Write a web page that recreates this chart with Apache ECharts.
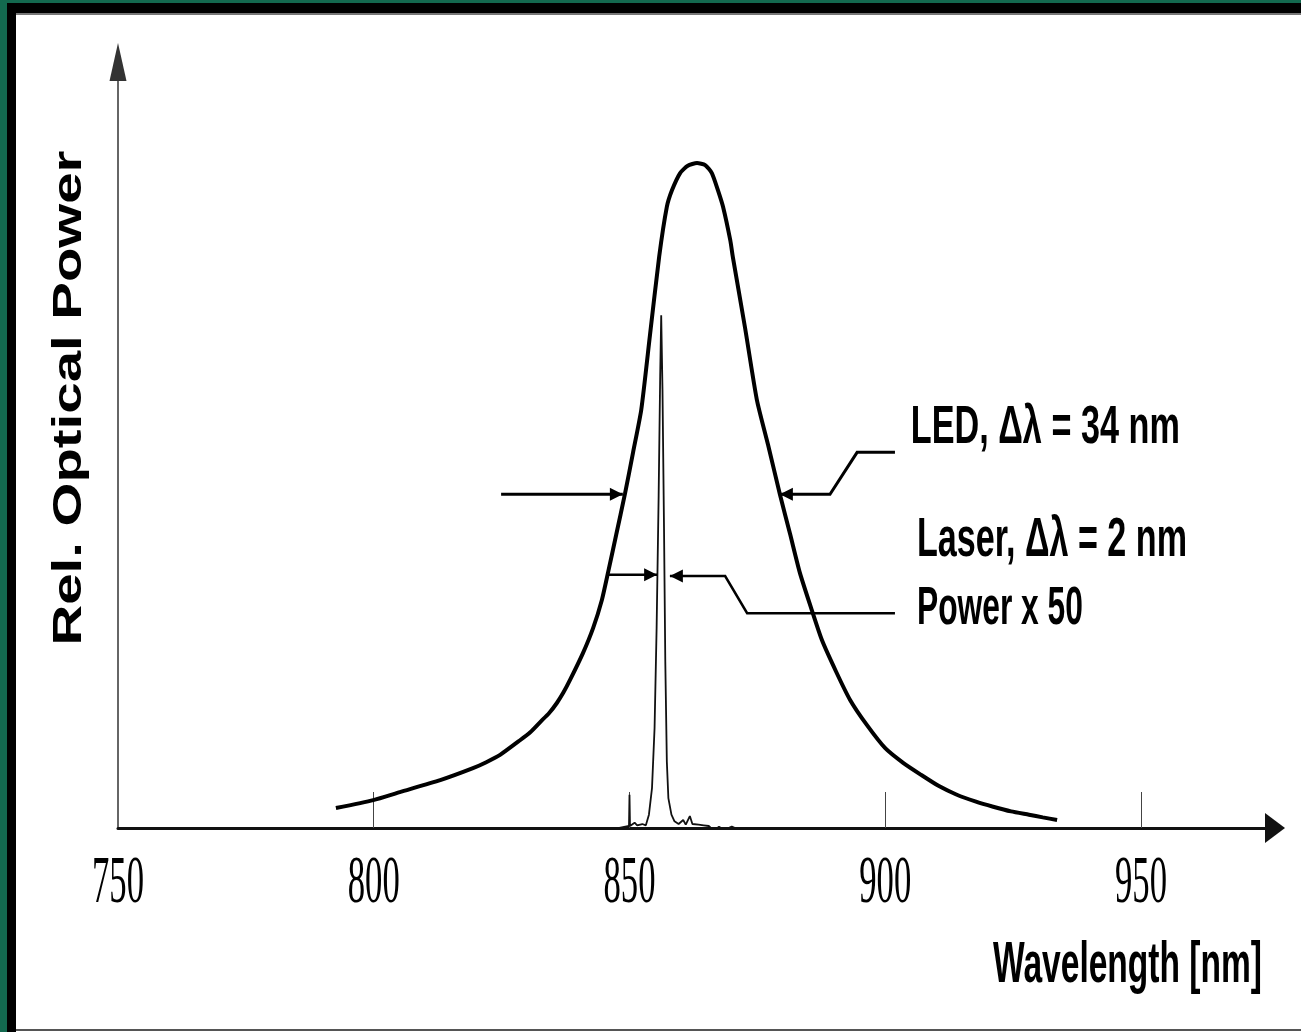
<!DOCTYPE html>
<html><head><meta charset="utf-8">
<script src="https://cdn.jsdelivr.net/npm/echarts@6/dist/echarts.min.js"></script>
<style>
html,body{margin:0;padding:0;background:#fff;width:1301px;height:1032px;overflow:hidden;}
.f{position:absolute;}
#chart{position:absolute;left:0;top:0;width:1301px;height:1032px;}
</style></head>
<body>
<div class="f" style="left:0;top:0;width:1301px;height:3px;background:#13694f"></div>
<div class="f" style="left:0;top:0;width:7px;height:1032px;background:#13694f"></div>
<div class="f" style="left:7px;top:3px;width:1294px;height:10px;background:#000"></div>
<div class="f" style="left:16px;top:13px;width:1285px;height:2px;background:#777"></div>
<div class="f" style="left:7px;top:3px;width:9px;height:1029px;background:#000"></div>
<div class="f" style="left:16px;top:1029px;width:1285px;height:2px;background:#555"></div>
<div id="chart"></div>
<script>
// ---- data ----
const xTickValues = [800, 850, 900, 950];
const xLabelValues = [750, 800, 850, 900, 950];
const xLabelTexts = ['750', '800', '850', '900', '950'];
const xAxisTitle = 'Wavelength [nm]';
const yAxisTitle = 'Rel. Optical Power';
const ledLabel = 'LED, \u0394\u03bb = 34 nm';
const laserLabel = 'Laser, \u0394\u03bb = 2 nm';
const laserLabel2 = 'Power x 50';

const ledWavelength = [792.6, 799.9, 805.1, 813.0, 819.4, 822.0, 824.7, 828.6, 830.6, 832.5, 834.3, 835.8, 837.1, 838.4, 840.9, 842.9, 844.6, 845.8, 847.4, 849.1, 850.7, 852.3, 854.0, 855.8, 857.3, 858.3, 859.9, 861.4, 863.2, 864.8, 866.1, 867.3, 868.3, 869.7, 870.2, 872.6, 874.9, 877.1, 879.4, 881.4, 883.3, 885.5, 887.6, 890.4, 893.1, 896.4, 900.0, 903.5, 907.0, 910.5, 914.0, 917.6, 921.1, 924.6, 928.1, 930.8, 933.6];
const ledPower = [0.030, 0.042, 0.054, 0.072, 0.090, 0.099, 0.110, 0.132, 0.144, 0.159, 0.173, 0.188, 0.204, 0.223, 0.263, 0.301, 0.343, 0.384, 0.441, 0.502, 0.565, 0.629, 0.741, 0.859, 0.934, 0.959, 0.985, 0.996, 1.000, 0.997, 0.985, 0.959, 0.934, 0.884, 0.859, 0.752, 0.644, 0.576, 0.502, 0.442, 0.384, 0.331, 0.283, 0.235, 0.193, 0.155, 0.120, 0.098, 0.080, 0.063, 0.050, 0.040, 0.032, 0.025, 0.020, 0.016, 0.012];

const laserWavelength = [848.0, 849.9, 850.0, 850.1, 851.0, 851.5, 852.5, 853.2, 853.8, 854.4, 854.9, 855.3, 855.7, 856.0, 856.2, 856.45, 856.75, 857.0, 857.3, 857.6, 858.2, 858.8, 859.6, 860.5, 861.0, 861.8, 862.3, 863.5, 864.5, 865.5, 866.5, 867.5, 868.5, 870.0, 871.5, 873.0];
const laserPower = [0.0, 0.003, 0.050, 0.003, 0.008, 0.004, 0.006, 0.004, 0.020, 0.060, 0.150, 0.300, 0.500, 0.680, 0.771, 0.660, 0.450, 0.250, 0.100, 0.045, 0.020, 0.010, 0.006, 0.012, 0.005, 0.018, 0.006, 0.005, 0.004, 0.003, -0.004, 0.002, -0.003, 0.002, -0.003, 0.0];

// leader lines (wavelength, power)
const ledLeftArrow = [[824.9, 0.502], [848.7, 0.502]];
const ledRightArrow = [[879.4, 0.502], [889.2, 0.502], [894.5, 0.565], [901.9, 0.565]];
const laserLeftArrow = [[845.8, 0.381], [855.4, 0.381]];
const laserRightArrow = [[857.9, 0.379], [868.7, 0.379], [873.0, 0.323], [901.9, 0.323]];
const ledLabelAnchor = [905.0, 0.602];
const laserLabelAnchor = [906.2, 0.432];
const laserLabel2Anchor = [906.2, 0.329];

// ---- chart ----
const chart = echarts.init(document.getElementById('chart'));
const ledData = ledWavelength.map((w, i) => [w, ledPower[i]]);
const laserData = laserWavelength.map((w, i) => [w, laserPower[i]]);

chart.setOption({
  animation: false,
  backgroundColor: 'transparent',
  grid: {left: 118, right: 26, top: 62, bottom: 204},
  xAxis: {
    type: 'value', min: 750, max: 976.2,
    axisLine: {show: true, lineStyle: {color: '#111', width: 3}, symbol: ['none', 'triangle'], symbolSize: [30, 20]},
    axisTick: {show: true, inside: true, length: 36, customValues: xTickValues, lineStyle: {color: '#444', width: 1}},
    axisLabel: {show: false},
    splitLine: {show: false}
  },
  yAxis: {
    type: 'value', min: 0, max: 1.152,
    axisLine: {show: true, lineStyle: {color: '#333', width: 1.5}, symbol: ['none', 'triangle'], symbolSize: [17, 38]},
    axisTick: {show: false},
    axisLabel: {show: false},
    splitLine: {show: false}
  },
  series: [
    {type: 'line', data: laserData, symbol: 'none', showSymbol: false, lineStyle: {color: '#111', width: 1.8}, z: 3},
    {type: 'line', data: ledData, smooth: 0.2, symbol: 'none', showSymbol: false, lineStyle: {color: '#000', width: 4}, z: 4}
  ]
});

const mctx = document.createElement('canvas').getContext('2d');
function fit(text, font, target) {
  mctx.font = font;
  return target / mctx.measureText(text).width;
}
const P = (p) => chart.convertToPixel({gridIndex: 0}, p);

function textEl(text, x, y, size, family, weight, target, opts) {
  const font = (weight || 'normal') + ' ' + size + 'px ' + family;
  const s = fit(text, font, target);
  return Object.assign({
    type: 'text', x: x, y: y, scaleX: s, z: 20,
    style: {text: text, fontSize: size, fontFamily: family, fontWeight: weight || 'normal', fill: '#000', align: 'left', verticalAlign: 'middle'}
  }, opts || {});
}

function leader(pts, arrowAt, dir, width) {
  const px = pts.map(P);
  const els = [{type: 'polyline', z: 15, shape: {points: px}, style: {stroke: '#000', lineWidth: width, fill: null}}];
  const t = arrowAt === 'end' ? px[px.length - 1] : px[0];
  const L = 13, W = 13;
  els.push({type: 'polygon', z: 16, shape: {points: [[t[0], t[1]], [t[0] - dir * L, t[1] - W / 2], [t[0] - dir * L, t[1] + W / 2]]}, style: {fill: '#000'}});
  return els;
}

const g = [];
const axisY = P([750, 0])[1];
xLabelValues.forEach((v, i) => {
  const x = P([v, 0])[0];
  const el = textEl(xLabelTexts[i], x, axisY + 56, 68, 'Liberation Serif', 'normal', 52);
  el.style.align = 'center';
  g.push(el);
});
g.push(textEl(xAxisTitle, 993, 966, 57, 'Liberation Sans', 'bold', 269));
g.push(textEl(yAxisTitle, 70, 398, 40, 'Liberation Sans', 'bold', 495, {rotation: Math.PI / 2}));
g[g.length - 1].style.align = 'center';

const a1 = P(ledLabelAnchor), a2 = P(laserLabelAnchor), a3 = P(laserLabel2Anchor);
g.push(textEl(ledLabel, a1[0], a1[1], 54, 'Liberation Sans', 'bold', 269));
g.push(textEl(laserLabel, a2[0], a2[1], 56, 'Liberation Sans', 'bold', 270));
g.push(textEl(laserLabel2, a3[0], a3[1], 53, 'Liberation Sans', 'bold', 166));

g.push(...leader(ledLeftArrow, 'end', 1, 3));
g.push(...leader(ledRightArrow, 'start', -1, 3));
g.push(...leader(laserLeftArrow, 'end', 1, 2.5));
g.push(...leader(laserRightArrow, 'start', -1, 2.5));

chart.setOption({graphic: {elements: g}});
</script>
</body></html>
